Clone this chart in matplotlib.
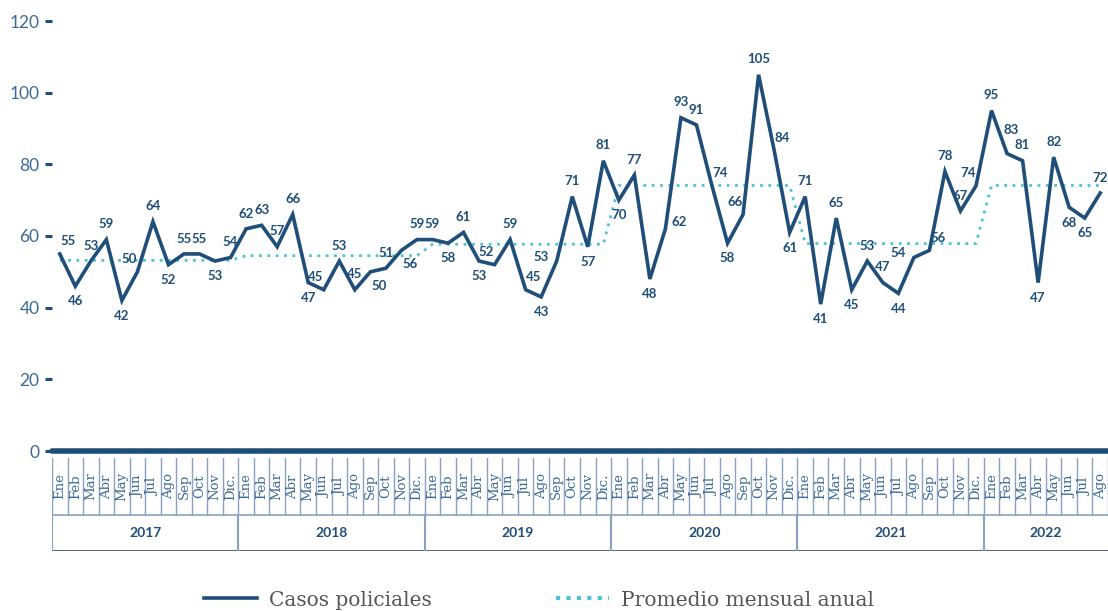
import matplotlib.pyplot as plt
from matplotlib.lines import Line2D

MESES = ['Ene', 'Feb', 'Mar', 'Abr', 'May', 'Jun', 'Jul', 'Ago', 'Sep', 'Oct', 'Nov', 'Dic.']
ANIOS = ['2017', '2018', '2019', '2020', '2021', '2022']
MESES_POR_ANIO = [12, 12, 12, 12, 12, 8]

casos_2017 = [55, 46, 53, 59, 42, 50, 64, 52, 55, 55, 53, 54]
casos_2018 = [62, 63, 57, 66, 47, 45, 53, 45, 50, 51, 56, 59]
casos_2019 = [59, 58, 61, 53, 52, 59, 45, 43, 53, 71, 57, 81]
casos_2020 = [70, 77, 48, 62, 93, 91, 74, 58, 66, 105, 84, 61]
casos_2021 = [71, 41, 65, 45, 53, 47, 44, 54, 56, 78, 67, 74]
casos_2022 = [95, 83, 81, 47, 82, 68, 65, 72]

# promedio mensual de cada año (linea punteada)
promedio_anual = [53.2, 54.5, 57.7, 74.1, 57.9, 74.1]

# posicion de la etiqueta de cada punto: a=arriba, b=abajo, l/r=izq/der
pos_etiquetas = ['ar', 'b', 'a', 'a', 'b', 'al', 'a', 'b', 'a', 'a', 'b', 'a',
                 'a', 'a', 'a', 'a', 'b', 'al', 'a', 'a', 'br', 'a', 'br', 'a',
                 'a', 'b', 'a', 'b', 'al', 'a', 'ar', 'b', 'l', 'a', 'b', 'a',
                 'b', 'a', 'b', 'r', 'a', 'a', 'ar', 'b', 'al', 'a', 'ar', 'b',
                 'a', 'b', 'a', 'b', 'a', 'a', 'b', 'l', 'ar', 'a', 'a', 'al',
                 'a', 'aa', 'a', 'b', 'a', 'b', 'b', 'a']

OFFSETS = {'a': (0, 11), 'b': (0, -11), 'al': (-6, 9), 'ar': (6, 9), 'aa': (3, 17),
           'bl': (-6, -10), 'br': (6, -10), 'l': (-11, 3), 'r': (10, 5)}

AZUL = '#1f4e79'
CIAN = '#4cc3d6'
AZUL_TXT = '#3d6a98'
GRIS_LINEA = '#8aa2bf'

casos = casos_2017 + casos_2018 + casos_2019 + casos_2020 + casos_2021 + casos_2022
promedio = []
for v, n in zip(promedio_anual, MESES_POR_ANIO):
    promedio += [v] * n
x = list(range(len(casos)))

W, H = 1108, 611
fig = plt.figure(figsize=(W / 100, H / 100), dpi=100)
left, right = 52 / W, 1108 / W
ax = fig.add_axes([left, 160 / H, right - left, 430 / H])

ax.plot(x, promedio, color=CIAN, linestyle=(0, (1, 2)), linewidth=2)
ax.plot(x, casos, color=AZUL, linewidth=2.6, solid_joinstyle='miter')
for xi, v, p in zip(x, casos, pos_etiquetas):
    dx, dy = OFFSETS[p]
    ax.annotate(str(v), (xi, v), xytext=(dx, dy), textcoords='offset points',
                ha='center', va='center', fontsize=9.5, fontweight='bold',
                color=AZUL, family='Lato', annotation_clip=False)

ax.axhline(0, color=AZUL, linewidth=4, solid_capstyle='round', clip_on=False)
ax.set_xlim(-0.5, len(casos) - 0.5)
ax.set_ylim(0, 120)
ax.set_yticks(range(0, 121, 20))
ax.set_xticks([])
for s in ax.spines.values():
    s.set_visible(False)
ax.tick_params(axis='y', length=5, width=2.2, color=AZUL, pad=4,
               labelsize=12.5, labelcolor=AZUL_TXT)
for t in ax.get_yticklabels():
    t.set_family('Lato')

# tabla de meses y años bajo el eje
tax = fig.add_axes([left, 60 / H, right - left, 93 / H])
tax.set_xlim(-0.5, len(casos) - 0.5)
tax.set_ylim(0, 98)
tax.axis('off')
corte = 38
tax.axhline(corte, color=GRIS_LINEA, linewidth=1.2)
tax.axhline(0, color=AZUL, linewidth=1.2)
for i in x:
    tax.text(i, (corte + 98) / 2, MESES[i % 12], rotation=90, ha='center',
             va='center', fontsize=9.5, color=AZUL_TXT, family='DejaVu Serif')
for i in range(len(casos) + 1):
    tax.plot([i - 0.5, i - 0.5], [corte, 98], color=GRIS_LINEA, linewidth=1)
inicio = 0
for anio, n in zip(ANIOS, MESES_POR_ANIO):
    tax.plot([inicio - 0.5, inicio - 0.5], [0, corte], color=GRIS_LINEA, linewidth=1.5)
    tax.text(inicio + n / 2 - 0.5, corte / 2, anio, ha='center', va='center',
             fontsize=10, fontweight='bold', color=AZUL, family='Lato')
    inicio += n

handles = [Line2D([], [], color=AZUL, linewidth=2.6),
           Line2D([], [], color=CIAN, linestyle=(0, (1, 1.5)), linewidth=3)]
fig.legend(handles, ['Casos policiales', 'Promedio mensual anual'],
           loc='center', bbox_to_anchor=(0.4865, 0.018), ncol=2, frameon=False,
           columnspacing=6.2, handlelength=2.6, handletextpad=0.6,
           prop={'family': 'DejaVu Serif', 'size': 14.5}, labelcolor='#555555')

plt.savefig('out.png', dpi=100)
